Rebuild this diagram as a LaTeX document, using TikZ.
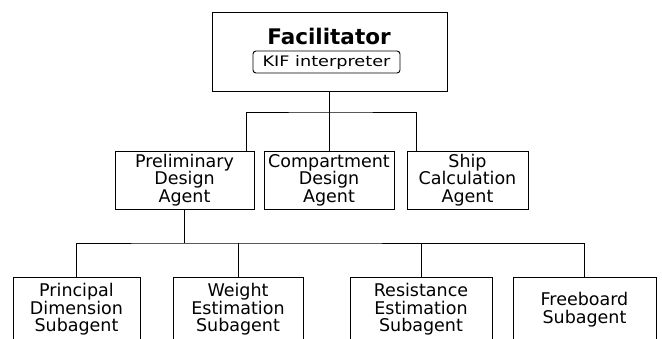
\documentclass[tikz,border=0pt]{standalone}
\usepackage{fontspec}
\setmainfont{DejaVu Sans}
\newfontfamily\kiffont[FakeStretch=1.22]{DejaVu Sans}
\usetikzlibrary{positioning}

\tikzset{
  agent/.style={draw,align=center,inner sep=0pt,minimum height=58pt,
    font=\fontsize{17.5}{17.5}\selectfont,
    execute at begin node={\rule{0pt}{17pt}}},
  subagent/.style={draw,align=center,inner sep=0pt,minimum height=65pt,
    font=\fontsize{17.5}{17.5}\selectfont},
}

\begin{document}
\begin{tikzpicture}[x=1pt,y=-1pt,line width=.9pt]
\useasboundingbox (0,0) rectangle (662,338);
\clip (0,0) rectangle (662,338);
% facilitator on top
\node[draw,minimum width=235pt,minimum height=79pt] (fac) at (329.5,51.5){};
\node[font=\fontsize{21.5}{21.5}\selectfont\bfseries] (facname) at (329,36){Facilitator};
\node[draw,rounded corners=3pt,minimum width=147pt,minimum height=22pt,inner sep=0pt,
  font=\kiffont\fontsize{14.5}{14.5}\selectfont] (kif) at (326.5,62){KIF interpreter};
% agents
\node[agent,minimum width=139pt] (pda) at (184.5,180){Preliminary\\Design\\Agent};
\node[agent,minimum width=130pt] (cda) at (329,180){Compartment\\Design\\Agent};
\node[agent,minimum width=121pt] (sca) at (467.5,180){Ship\\Calculation\\Agent};
% subagents of the preliminary design agent
\node[subagent,minimum width=127pt] (pds) at (76.5,309.5){Principal\\Dimension\\Subagent};
\node[subagent,minimum width=130pt] (wes) at (238,309.5){Weight\\Estimation\\Subagent};
\node[subagent,minimum width=142pt] (res) at (421,309.5){Resistance\\Estimation\\Subagent};
\node[subagent,minimum width=143pt] (fbs) at (584.5,309.5){Freeboard\\Subagent};
% connectors
\coordinate (busa) at (330,112);
\coordinate (busb) at (184.5,243);
\draw (fac.south) -- (fac.south |- cda.north);
\draw ([xshift=61.5pt]pda.north) |- (busa) -| ([xshift=-51.5pt]sca.north);
\draw (pda.south) -- (busb);
\draw (pds.north) |- (busb) -| (fbs.north);
\draw (wes.north) -- (wes.north |- busb);
\draw (res.north) -- (res.north |- busb);
\end{tikzpicture}
\end{document}
